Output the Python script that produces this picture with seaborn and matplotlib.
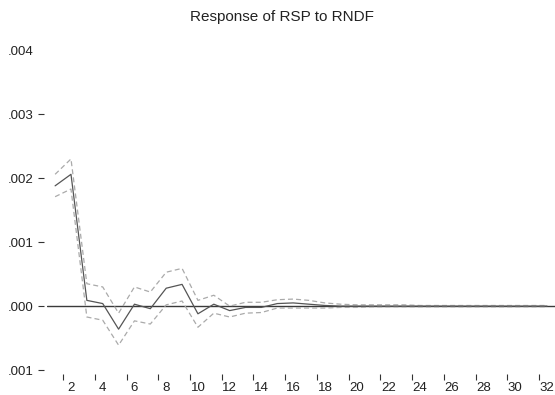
import numpy as np
import pandas as pd
import matplotlib
matplotlib.use("Agg")
import matplotlib.pyplot as plt
import seaborn as sns

sns.set_style("white")
plt.rcParams["font.family"] = ["Liberation Sans", "DejaVu Sans"]

# impulse response of RSP to RNDF, periods 1..32
periods = list(range(1, 33))
response = [1.88e-3, 2.06e-3, 0.09e-3, 0.04e-3, -0.36e-3, 0.03e-3, -0.04e-3, 0.28e-3,
            0.34e-3, -0.12e-3, 0.03e-3, -0.07e-3, -0.02e-3, -0.02e-3, 0.04e-3, 0.05e-3,
            0.03e-3, 0.01e-3, 0.0, 0.0, 0.0, 0.0, 0.0, 0.0,
            0.0, 0.0, 0.0, 0.0, 0.0, 0.0, 0.0, 0.0]
upper = [2.06e-3, 2.30e-3, 0.35e-3, 0.30e-3, -0.11e-3, 0.30e-3, 0.22e-3, 0.53e-3,
         0.59e-3, 0.09e-3, 0.17e-3, 0.0, 0.06e-3, 0.06e-3, 0.10e-3, 0.11e-3,
         0.09e-3, 0.05e-3, 0.03e-3, 0.02e-3, 0.02e-3, 0.02e-3, 0.02e-3, 0.01e-3,
         0.01e-3, 0.01e-3, 0.01e-3, 0.01e-3, 0.01e-3, 0.01e-3, 0.01e-3, 0.01e-3]
lower = [1.71e-3, 1.83e-3, -0.17e-3, -0.22e-3, -0.61e-3, -0.23e-3, -0.28e-3, 0.02e-3,
         0.08e-3, -0.33e-3, -0.11e-3, -0.17e-3, -0.11e-3, -0.10e-3, -0.03e-3, -0.03e-3,
         -0.03e-3, -0.03e-3, -0.02e-3, -0.02e-3, -0.01e-3, -0.01e-3, -0.01e-3, -0.01e-3,
         -0.01e-3, -0.01e-3, -0.01e-3, -0.01e-3, -0.01e-3, -0.01e-3, -0.01e-3, -0.01e-3]

y_ticks = [-0.001, 0.0, 0.001, 0.002, 0.003, 0.004]
y_labels = [".001", ".000", ".001", ".002", ".003", ".004"]
x_labels = [str(p) for p in range(2, 33, 2)]

df = pd.DataFrame({"period": periods, "response": response,
                   "upper": upper, "lower": lower})

fig = plt.figure(figsize=(5.55, 3.95), dpi=100)
ax = fig.add_axes([0.085, 0.063, 0.915, 0.81])

ax.axhline(0, color="#3a3a3a", lw=1.0, zorder=1)
sns.lineplot(data=df, x="period", y="upper", ax=ax, color="#aaaaaa", lw=0.9,
             linestyle=(0, (4, 2.5)))
sns.lineplot(data=df, x="period", y="lower", ax=ax, color="#aaaaaa", lw=0.9,
             linestyle=(0, (4, 2.5)))
sns.lineplot(data=df, x="period", y="response", ax=ax, color="#555555", lw=0.9)

ax.set_xlim(0.5, 32.5)
ax.set_ylim(-0.001, 0.004)
ax.set_xlabel("")
ax.set_ylabel("")

for side in ["top", "right", "left", "bottom"]:
    ax.spines[side].set_visible(False)
ax.spines["bottom"].set_position(("outward", 3))
ax.spines["left"].set_position(("outward", 2))

ax.set_yticks(y_ticks)
ax.set_yticklabels(y_labels)
ax.tick_params(axis="y", which="major", length=4, width=0.8, color="#333333",
               pad=3.5, labelsize=9.5, labelcolor="#222222", direction="out", left=True)
ax.yaxis.get_major_ticks()[-1].tick1line.set_visible(False)

ax.set_xticks([int(s) for s in x_labels])
ax.set_xticklabels(x_labels)
ax.set_xticks(np.arange(1.5, 32.5, 2), minor=True)
ax.tick_params(axis="x", which="major", length=0, pad=5.5, labelsize=9.5,
               labelcolor="#222222", bottom=True)
ax.tick_params(axis="x", which="minor", length=4.5, width=0.8, color="#333333",
               direction="out", bottom=True)

fig.suptitle("Response of RSP to RNDF", x=0.508, y=0.957, va="center",
             fontsize=11, color="#222222")

fig.savefig("out.png", dpi=100)
plt.close(fig)
